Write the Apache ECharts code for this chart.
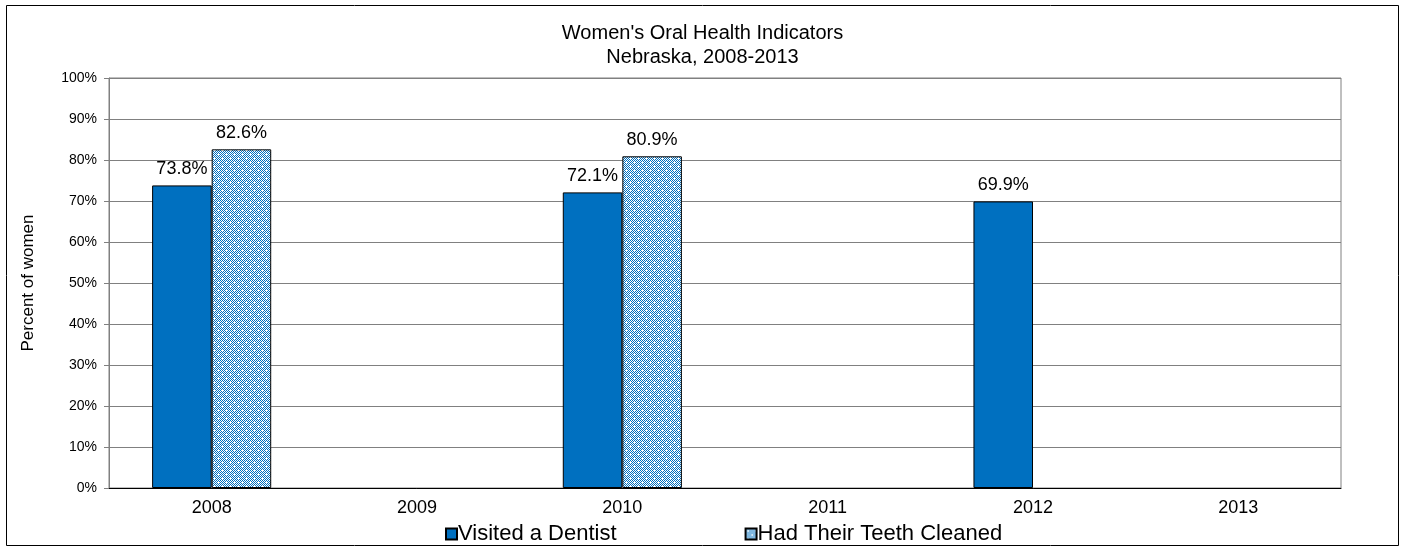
<!DOCTYPE html>
<html lang="en">
<head>
    <meta charset="UTF-8">
    <title>Women's Oral Health Indicators</title>
    <style>
        html, body { margin: 0; padding: 0; background: #fff; }
        #main { width: 1405px; height: 552px; }
    </style>
</head>
<body>
    <div id="main"></div>
    <script src="https://cdn.jsdelivr.net/npm/echarts@6/dist/echarts.min.js"></script>
    <script>
    var years = ['2008', '2009', '2010', '2011', '2012', '2013'];
    var visitedDentist = [73.8, null, 72.1, null, 69.9, null];
    var teethCleaned = [82.6, null, 80.9, null, null, null];

    // checkered blue/white fill like the original
    function makePattern() {
        var c = document.createElement('canvas');
        c.width = 8;
        c.height = 8;
        var ctx = c.getContext('2d');
        ctx.fillStyle = '#ffffff';
        ctx.fillRect(0, 0, 8, 8);
        ctx.fillStyle = '#0070C0';
        for (var y = 0; y < 8; y++) {
            for (var x = 0; x < 8; x++) {
                if ((x + y) % 2 === 0) ctx.fillRect(x, y, 1, 1);
            }
        }
        // small white crosses
        ctx.fillStyle = '#ffffff';
        ctx.fillRect(2, 2, 1, 1);
        ctx.fillRect(6, 6, 1, 1);
        return c;
    }

    var myChart = echarts.init(document.getElementById('main'));
    var fontName = 'Liberation Sans, Arial, sans-serif';

    var labelFmt = function(p) { return p.value.toFixed(1) + '%'; };

    var option = {
        animation: false,
        textStyle: { fontFamily: fontName },
        title: {
            text: "Women's Oral Health Indicators\nNebraska, 2008-2013",
            left: 'center',
            top: 16,
            textStyle: {
                fontFamily: fontName,
                fontWeight: 'normal',
                fontSize: 20,
                lineHeight: 24,
                color: '#000'
            }
        },
        legend: {
            data: ['Visited a Dentist', 'Had Their Teeth Cleaned'],
            bottom: 7,
            left: 445,
            padding: 0,
            itemGap: 128,
            itemWidth: 11,
            itemHeight: 11,
            icon: 'rect',
            textStyle: { fontSize: 22, color: '#000', padding: [0, 0, 0, -4] }
        },
        graphic: [{
            type: 'rect',
            shape: { x: 6.5, y: 5.5, width: 1392, height: 540 },
            style: { fill: 'none', stroke: '#000', lineWidth: 1 }
        }],
        grid: {
            left: 109,
            right: 64,
            top: 78,
            bottom: 64,
            show: true,
            borderColor: '#808080',
            borderWidth: 1
        },
        xAxis: {
            type: 'category',
            data: years,
            axisLine: { lineStyle: { color: '#000', width: 1 } },
            axisTick: { alignWithLabel: false, length: 5, lineStyle: { color: '#000' } },
            axisLabel: { color: '#000', fontSize: 18, margin: 11 }
        },
        yAxis: {
            type: 'value',
            min: 0,
            max: 100,
            interval: 10,
            name: 'Percent of women',
            nameLocation: 'middle',
            nameGap: 72,
            nameRotate: 90,
            nameTextStyle: { fontSize: 17, color: '#000' },
            axisLine: { show: true, lineStyle: { color: '#808080' } },
            axisTick: { show: true, length: 5, lineStyle: { color: '#808080' } },
            axisLabel: { formatter: '{value}%', color: '#000', fontSize: 14, margin: 12 },
            splitLine: { lineStyle: { color: '#808080', width: 1 } }
        },
        series: [{
            name: 'Visited a Dentist',
            type: 'bar',
            data: visitedDentist,
            barGap: '0%',
            barCategoryGap: '42%',
            itemStyle: { color: '#0070C0', borderColor: '#000', borderWidth: 1 },
            label: {
                show: true,
                position: 'top',
                distance: 7,
                fontSize: 18,
                color: '#000',
                formatter: labelFmt
            }
        }, {
            name: 'Had Their Teeth Cleaned',
            type: 'bar',
            data: teethCleaned,
            itemStyle: {
                color: { image: makePattern(), repeat: 'repeat' },
                borderColor: '#000',
                borderWidth: 1
            },
            label: {
                show: true,
                position: 'top',
                distance: 7,
                fontSize: 18,
                color: '#000',
                formatter: labelFmt
            }
        }]
    };

    myChart.setOption(option);
    </script>
</body>
</html>
